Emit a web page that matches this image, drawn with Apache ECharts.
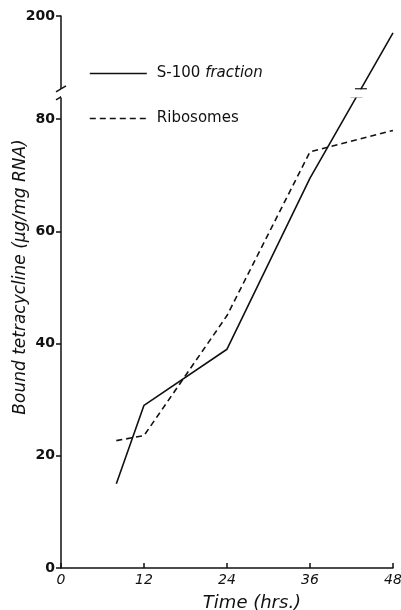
<!DOCTYPE html>
<html>
<head>
<meta charset="utf-8">
<script src="https://cdn.jsdelivr.net/npm/echarts@6/dist/echarts.min.js"></script>
<style>
  html, body { margin: 0; padding: 0; background: #fff; }
  #chart { width: 401px; height: 610px; }
</style>
</head>
<body>
<div id="chart"></div>
<script>
// Time points (hrs.)
const hours = [8, 12, 24, 36, 48];
// Bound tetracycline (µg/mg RNA)
const s100Fraction = [15, 29, 39, 69.5, 197];
const ribosomes = [22.7, 23.6, 45, 74.2, 78];
// Axis ticks
const xTicks = [0, 12, 24, 36, 48];
const yTicks = [0, 20, 40, 60, 80, 200];
// Broken y-axis span
const yBreakStart = 84;
const yBreakEnd = 187;

const FONT = 'DejaVu Sans';
const INK = '#111';

const chart = echarts.init(document.getElementById('chart'), null, { renderer: 'canvas' });

const option = {
  backgroundColor: '#fff',
  animation: false,
  grid: { left: 61, right: 8, top: 16, bottom: 42, containLabel: false, outerBoundsMode: 'none' },
  legend: {
    orient: 'vertical',
    left: 89,
    top: 66,
    padding: 0,
    z: 20,
    itemWidth: 57,
    itemHeight: 16,
    itemGap: 30,
    itemStyle: { opacity: 0 },
    lineStyle: { width: 1.6 },
    textStyle: {
      fontFamily: FONT, fontSize: 15, color: INK, padding: [0, 0, 0, 5],
      rich: {
        a: { fontFamily: FONT, fontSize: 15, color: INK },
        b: { fontFamily: FONT, fontSize: 15, color: INK, fontStyle: 'italic' }
      }
    },
    formatter: function (name) {
      if (name === 'S-100 fraction') return '{a|S-100} {b|fraction}';
      return '{a|' + name + '}';
    },
    data: ['S-100 fraction', 'Ribosomes']
  },
  xAxis: {
    type: 'value',
    min: 0, max: 48, interval: 12,
    axisLine: { show: true, lineStyle: { color: INK, width: 1.5 } },
    axisTick: { show: true, inside: true, length: 5, lineStyle: { color: INK, width: 1.5 } },
    axisLabel: {
      fontFamily: FONT, fontSize: 14, fontStyle: 'italic', color: INK, margin: 5,
      customValues: xTicks
    },
    splitLine: { show: false },
    name: 'Time (hrs.)',
    nameLocation: 'middle',
    nameGap: 26,
    nameTextStyle: { fontFamily: FONT, fontSize: 18, fontStyle: 'italic', color: INK, padding: [0, 0, 0, 50] }
  },
  yAxis: {
    type: 'value',
    min: 0, max: 200,
    breaks: [{ start: yBreakStart, end: yBreakEnd, gap: 1.4 }],
    breakArea: {
      show: true,
      zigzagAmplitude: 0,
      itemStyle: { color: '#fff', borderColor: '#fff', borderWidth: 0, opacity: 1 }
    },
    axisLine: { show: true, lineStyle: { color: INK, width: 1.5 } },
    axisTick: { show: true, length: 5, lineStyle: { color: INK, width: 1.5 }, customValues: yTicks },
    axisLabel: {
      fontFamily: FONT, fontSize: 14, fontWeight: 'bold', color: INK, margin: 6,
      customValues: yTicks
    },
    splitLine: { show: false },
    name: 'Bound tetracycline (\u03bcg/mg RNA)',
    nameLocation: 'middle',
    nameGap: 32,
    nameMoveOverlap: false,
    nameTextStyle: { fontFamily: FONT, fontSize: 17, fontStyle: 'italic', color: INK, padding: [0, 0, 0, 30] }
  },
  series: [
    {
      name: 'S-100 fraction',
      type: 'line',
      symbol: 'none',
      data: hours.map((h, i) => [h, s100Fraction[i]]),
      lineStyle: { color: INK, width: 1.6, type: 'solid' },
      itemStyle: { color: INK },
      z: 3
    },
    {
      name: 'Ribosomes',
      type: 'line',
      symbol: 'none',
      data: hours.map((h, i) => [h, ribosomes[i]]),
      lineStyle: { color: INK, width: 1.6, type: [6, 4] },
      itemStyle: { color: INK },
      z: 3
    }
  ]
};

chart.setOption(option);

// Break marks on the y-axis and on the S-100 curve, placed from the axis scale
const yLo = chart.convertToPixel({ yAxisIndex: 0 }, yBreakStart);
const yHi = chart.convertToPixel({ yAxisIndex: 0 }, yBreakEnd);
const axisX = chart.convertToPixel({ xAxisIndex: 0 }, 0);
const pA = chart.convertToPixel({ gridIndex: 0 }, [hours[3], s100Fraction[3]]);
const pB = chart.convertToPixel({ gridIndex: 0 }, [hours[4], s100Fraction[4]]);
function xOnSegment(y) {
  return pA[0] + (pB[0] - pA[0]) * (y - pA[1]) / (pB[1] - pA[1]);
}
const markStyle = { stroke: INK, lineWidth: 1.5 };
const graphics = [];
[yLo, yHi].forEach(function (y) {
  graphics.push({ type: 'line', shape: { x1: axisX - 5, y1: y + 3, x2: axisX + 5, y2: y - 3 }, style: markStyle, z: 10 });
  const cx = xOnSegment(y);
  graphics.push({ type: 'line', shape: { x1: cx - 6, y1: y, x2: cx + 6, y2: y }, style: markStyle, z: 10 });
});
chart.setOption({ graphic: graphics });
</script>
</body>
</html>
